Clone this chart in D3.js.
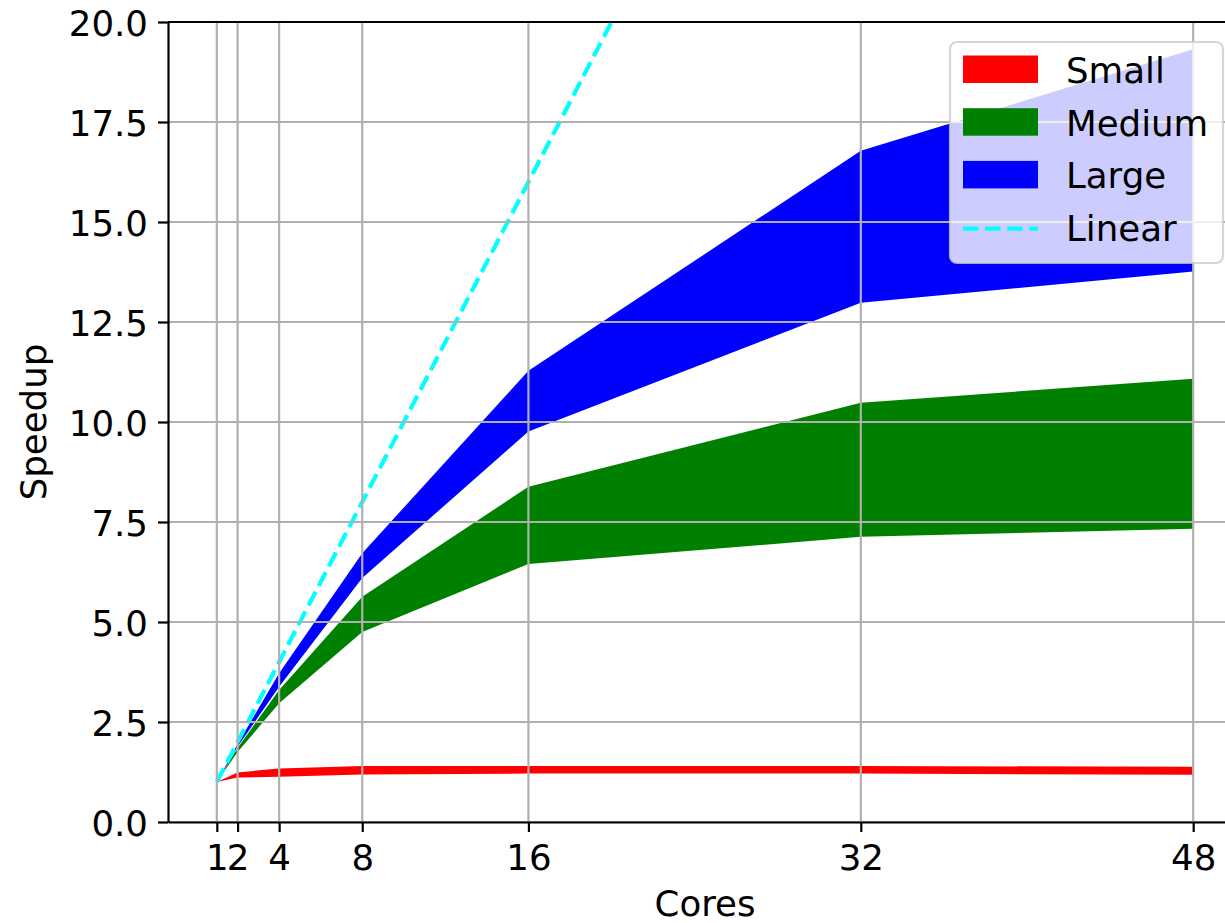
<!DOCTYPE html>
<html>
<head>
<meta charset="utf-8">
<script src="https://cdn.jsdelivr.net/npm/d3@7"></script>
<style>
  body { margin: 0; background: #fff; }
  text { font-family: "DejaVu Sans", sans-serif; fill: #000; }
</style>
</head>
<body>
<div id="chart"></div>
<script>
// data
const cores = [1, 2, 4, 8, 16, 32, 48];
const smallLow = [1.0, 1.11, 1.13, 1.19, 1.21, 1.21, 1.18];
const smallHigh = [1.0, 1.24, 1.34, 1.40, 1.40, 1.40, 1.38];
const mediumLow = [1.0, 1.75, 2.97, 4.75, 6.45, 7.13, 7.33];
const mediumHigh = [1.0, 1.85, 3.30, 5.63, 8.38, 10.48, 11.08];
const largeLow = [1.0, 1.88, 3.38, 6.10, 9.76, 12.98, 13.76];
const largeHigh = [1.0, 1.95, 3.72, 6.72, 11.28, 16.78, 19.32];
const linear = cores.slice();
const yTicks = [0, 2.5, 5, 7.5, 10, 12.5, 15, 17.5, 20];

const series = [
  {name: 'Small', color: 'red', low: smallLow, high: smallHigh},
  {name: 'Medium', color: 'green', low: mediumLow, high: mediumHigh},
  {name: 'Large', color: 'blue', low: largeLow, high: largeHigh}
];

const w = 1225, h = 923;
const padL = 168, padR = 1242, padT = 22, padB = 822;
const fs = 35.6;

const svg = d3.select('#chart').append('svg')
    .attr('width', w)
    .attr('height', h);

// matplotlib style 5% margins on x
const xScale = d3.scaleLinear()
    .domain([1 - 47 * 0.05, 48 + 47 * 0.05])
    .range([padL, padR]);
const yScale = d3.scaleLinear()
    .domain([0, 20])
    .range([padB, padT]);

svg.append('clipPath').attr('id', 'clip')
  .append('rect')
    .attr('x', padL).attr('y', padT)
    .attr('width', padR - padL).attr('height', padB - padT);

const plot = svg.append('g').attr('clip-path', 'url(#clip)');

// bands
series.forEach(s => {
    const area = d3.area()
        .x((d, i) => xScale(cores[i]))
        .y0((d, i) => yScale(s.low[i]))
        .y1((d, i) => yScale(s.high[i]));
    plot.append('path')
        .datum(cores)
        .attr('d', area)
        .attr('fill', s.color);
});

// linear speedup
plot.append('path')
    .datum(linear)
    .attr('d', d3.line().x((d, i) => xScale(cores[i])).y(d => yScale(d)))
    .attr('fill', 'none')
    .attr('stroke', 'cyan')
    .attr('stroke-width', 4.2)
    .attr('stroke-dasharray', '15.4,6.7');

// grid on top of the fills
const grid = svg.append('g').attr('clip-path', 'url(#clip)');
grid.selectAll('.vg').data(cores).enter().append('line')
    .attr('x1', d => xScale(d)).attr('x2', d => xScale(d))
    .attr('y1', padT).attr('y2', padB)
    .attr('stroke', '#b0b0b0').attr('stroke-width', 2.2);
grid.selectAll('.hg').data(yTicks).enter().append('line')
    .attr('x1', padL).attr('x2', padR)
    .attr('y1', d => yScale(d)).attr('y2', d => yScale(d))
    .attr('stroke', '#b0b0b0').attr('stroke-width', 2.2);

// axes
const xAxis = d3.axisBottom(xScale).tickValues(cores).tickFormat(d3.format('d'))
    .tickSize(10).tickPadding(10).tickSizeOuter(0);
const yAxis = d3.axisLeft(yScale).tickValues(yTicks).tickFormat(d3.format('.1f'))
    .tickSize(10).tickPadding(10).tickSizeOuter(0);

const gx = svg.append('g')
    .attr('transform', 'translate(0,' + padB + ')')
    .call(xAxis);
const gy = svg.append('g')
    .attr('transform', 'translate(' + padL + ',0)')
    .call(yAxis);

[gx, gy].forEach(g => {
    g.select('.domain').attr('stroke', '#000').attr('stroke-width', 2.2);
    g.selectAll('.tick line').attr('stroke', '#000').attr('stroke-width', 2.2);
    g.selectAll('.tick text')
        .style('font-family', '"DejaVu Sans", sans-serif')
        .style('font-size', fs + 'px')
        .attr('fill', '#000');
});
gx.selectAll('.tick text').attr('dy', null).attr('y', 48);
gy.selectAll('.tick text').attr('dy', null).attr('y', 13);

// top spine
svg.append('line')
    .attr('x1', padL).attr('x2', padR)
    .attr('y1', padT).attr('y2', padT)
    .attr('stroke', '#000').attr('stroke-width', 2.2);

// axis labels
svg.append('text')
    .text('Cores')
    .attr('x', (padL + padR) / 2)
    .attr('y', 916)
    .attr('text-anchor', 'middle')
    .style('font-size', fs + 'px');

svg.append('text')
    .text('Speedup')
    .attr('transform', 'translate(46,' + ((padT + padB) / 2) + ') rotate(-90)')
    .attr('text-anchor', 'middle')
    .style('font-size', fs + 'px');

// legend
const legend = svg.append('g');
legend.append('rect')
    .attr('x', 950).attr('y', 42)
    .attr('width', 273).attr('height', 221)
    .attr('rx', 7).attr('ry', 7)
    .attr('fill', 'white').attr('fill-opacity', 0.8)
    .attr('stroke', '#cccccc').attr('stroke-opacity', 0.8)
    .attr('stroke-width', 2.2);

const legendKeys = series.map(s => s.name).concat(['Linear']);
const rowY = (d, i) => 83 + 52.7 * i;

legend.selectAll('.sw').data(series).enter().append('rect')
    .attr('x', 963).attr('y', (d, i) => rowY(d, i) - 27.5)
    .attr('width', 75).attr('height', 27.5)
    .attr('fill', d => d.color);

legend.append('line')
    .attr('x1', 963).attr('x2', 1038)
    .attr('y1', rowY(null, 3) - 12.5).attr('y2', rowY(null, 3) - 12.5)
    .attr('stroke', 'cyan').attr('stroke-width', 4.2)
    .attr('stroke-dasharray', '15.4,6.7');

legend.selectAll('.lbl').data(legendKeys).enter().append('text')
    .text(d => d)
    .attr('x', 1066)
    .attr('y', rowY)
    .style('font-size', fs + 'px');
</script>
</body>
</html>
